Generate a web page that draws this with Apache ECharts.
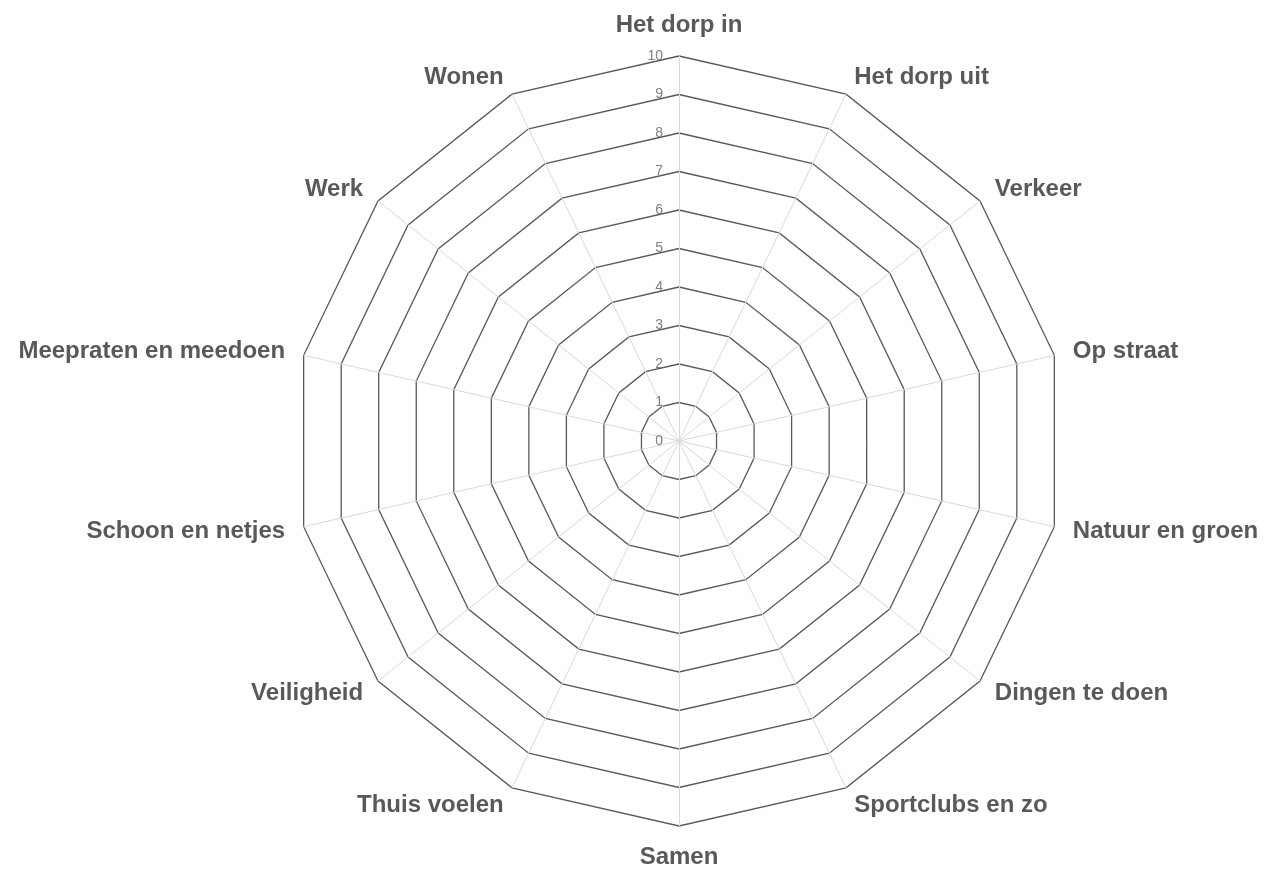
<!DOCTYPE html>
<html>
<head>
<meta charset="utf-8">
<script src="https://cdn.jsdelivr.net/npm/echarts@6/dist/echarts.min.js"></script>
<style>html,body{margin:0;padding:0;background:#fff;}#c{width:1271px;height:869px;}</style>
</head>
<body>
<div id="c"></div>
<script>
// categories in clockwise order starting at the top
var categories = ['Het dorp in','Het dorp uit','Verkeer','Op straat','Natuur en groen','Dingen te doen','Sportclubs en zo','Samen','Thuis voelen','Veiligheid','Schoon en netjes','Meepraten en meedoen','Werk','Wonen'];
var tickLabels = [0,1,2,3,4,5,6,7,8,9,10];
var axisMin = 0, axisMax = 10;
var seriesValues = []; // no data plotted in the reference

var chart = echarts.init(document.getElementById('c'), null, {renderer:'canvas'});
// ECharts lays indicators out counter-clockwise: keep the first, reverse the rest
var ordered = [categories[0]].concat(categories.slice(1).reverse());
var indicators = ordered.map(function(name, i){
  var ind = {name: name, min: axisMin, max: axisMax};
  if (i === 0) {
    ind.axisLabel = {show: true, color: '#808080', fontSize: 14, fontFamily: 'Liberation Sans', margin: 16,
      formatter: function(v){ return tickLabels.indexOf(v) >= 0 ? String(v) : ''; }};
  }
  return ind;
});
chart.setOption({
  animation: false,
  radar: {
    center: [679, 441],
    radius: 385,
    startAngle: 90,
    splitNumber: 10,
    shape: 'polygon',
    nameGap: 19,
    indicator: indicators,
    axisName: {color: '#595959', fontSize: 24, fontWeight: 'bold', fontFamily: 'Liberation Sans'},
    axisLine: {lineStyle: {color: '#d9d9d9', width: 1}},
    axisTick: {show: false},
    axisLabel: {show: false},
    splitLine: {lineStyle: {color: '#595959', width: 1.3}},
    splitArea: {show: false}
  },
  series: [{type: 'radar', data: seriesValues.length ? [{value: seriesValues}] : []}]
});
</script>
</body>
</html>
